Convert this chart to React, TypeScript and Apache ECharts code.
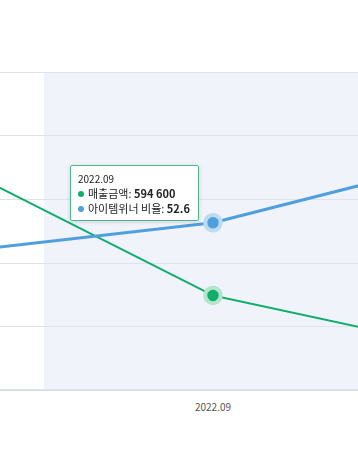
import React, { useEffect, useRef } from "react";
import * as echarts from "echarts";

const categories = ["2022.08", "2022.09", "2022.10"];
const salesValues = [1669000, 594600, 136500];
const ratioValues = [40.5, 52.6, 79.6];
const salesName = "매출금액";
const ratioName = "아이템위너 비율";
const focusIndex = 1;

const GREEN = "#12ad6c";
const BLUE = "#4f9fdc";

function fmt(n: number) {
  return String(n).replace(/\B(?=(\d{3})+(?!\d))/g, " ");
}

export default function App() {
  const ref = useRef<HTMLDivElement>(null);
  useEffect(() => {
    if (!ref.current) return;
    const chart = echarts.init(ref.current, undefined, { renderer: "svg" });
    const mk = (vals: number[], color: string, halo: string) =>
      vals.map((v, i) =>
        i === focusIndex
          ? {
              value: v,
              symbol: "circle",
              symbolSize: 14,
              itemStyle: { color, borderColor: halo, borderWidth: 4 },
            }
          : { value: v, symbol: "none" }
      );
    chart.setOption({
      animation: false,
      textStyle: { fontFamily: "'Noto Sans CJK KR', 'Noto Sans', sans-serif" },
      grid: { left: 0, right: 0, top: 72, bottom: 59 },
      tooltip: {
        trigger: "axis",
        triggerOn: "none",
        alwaysShowContent: true,
        axisPointer: {
          type: "shadow",
          z: 1,
          shadowStyle: { color: "rgba(222,231,244,0.45)", opacity: 1 },
        },
        backgroundColor: "rgba(255,255,255,0.95)",
        borderColor: "#4cb888",
        borderWidth: 1.5,
        padding: 0,
        extraCssText: "box-shadow: 0 1px 4px rgba(0,0,0,0.15); border-radius: 2px;",
        position: () => [364, 165],
        formatter: (params: any[]) => {
          const p = params;
          let s = `<div style="display:block;font-size:10px;color:#222;line-height:14px;height:14px;margin:0">${p[0].axisValue}</div>`;
          p.forEach((it: any) => {
            const c = it.seriesIndex === 0 ? GREEN : BLUE;
            const v = it.seriesIndex === 0 ? fmt(it.value) : it.value;
            s += `<div style="display:block;font-size:11px;color:#222;line-height:15px;height:15px;white-space:nowrap;margin:0"><span style="display:inline-block;width:6px;height:6px;border-radius:3px;background:${c};margin-right:4px;vertical-align:1px"></span>${it.seriesName}: <b>${v}</b></div>`;
          });
          return `<div style="display:block;box-sizing:border-box;height:54px;padding:6px 8px 0 7px">${s}</div>`;
        },
      },
      xAxis: {
        type: "category",
        data: categories,
        boundaryGap: true,
        axisTick: { show: false },
        axisLine: { lineStyle: { color: "#d6dae1", width: 1.5 } },
        axisLabel: {
          color: "#555",
          fontSize: 10,
          margin: 11,
          interval: (i: number) => i === focusIndex,
        },
      },
      yAxis: [
        {
          type: "value",
          min: 0,
          max: 2000000,
          interval: 400000,
          axisLabel: { show: false },
          splitLine: { lineStyle: { color: "#dfe2e7", width: 1.2 } },
        },
        {
          type: "value",
          min: 0,
          max: 100,
          interval: 20,
          axisLabel: { show: false },
          splitLine: { show: false },
        },
      ],
      series: [
        {
          name: salesName,
          type: "line",
          yAxisIndex: 0,
          z: 3,
          data: mk(salesValues, GREEN, "#b5e3cc"),
          lineStyle: { color: GREEN, width: 2 },
          itemStyle: { color: GREEN },
          emphasis: { disabled: true },
        },
        {
          name: ratioName,
          type: "line",
          yAxisIndex: 1,
          z: 3,
          data: mk(ratioValues, BLUE, "#bcdaf2"),
          lineStyle: { color: BLUE, width: 3 },
          itemStyle: { color: BLUE },
          emphasis: { disabled: true },
        },
      ],
    });
    chart.dispatchAction({ type: "showTip", seriesIndex: 0, dataIndex: focusIndex });
    return () => chart.dispose();
  }, []);
  return (
    <div
      style={{
        position: "absolute",
        left: 0,
        top: 0,
        width: 358,
        height: 449,
        overflow: "hidden",
        background: "#fff",
      }}
    >
      <div
        ref={ref}
        style={{ position: "absolute", left: -294, top: 0, width: 1014, height: 449 }}
      />
    </div>
  );
}
